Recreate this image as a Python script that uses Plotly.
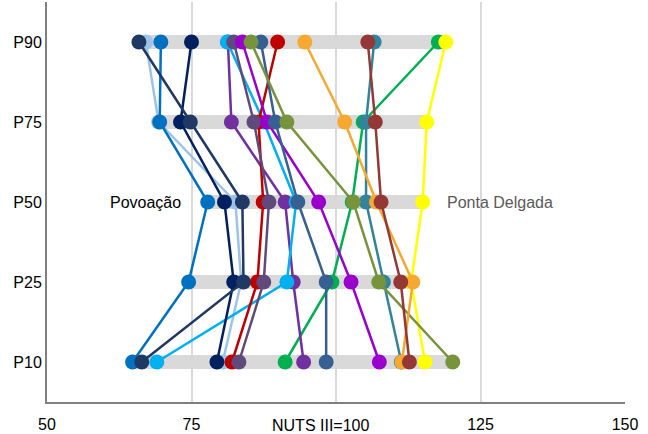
import plotly.graph_objects as go

levels = ["P10", "P25", "P50", "P75", "P90"]
level_pos = [0, 1, 2, 3, 4]

# values per series: [P10, P25, P50, P75, P90]
light_blue = [80.4, 83.6, 82.6, 69.3, 67.1]
green = [91.2, 99.3, 102.8, 104.7, 117.7]
teal = [111.3, 108.2, 105.2, 105.2, 106.6]
yellow = [115.4, 113.0, 115.0, 115.7, 119.0]
violet = [94.4, 92.6, 91.2, 81.9, 81.3]
cyan = [69.0, 91.5, 93.1, 87.5, 81.2]
red = [82.0, 86.4, 87.4, 86.6, 89.9]
dark_purple = [83.2, 87.5, 88.4, 85.8, 82.3]
navy = [79.4, 82.3, 80.7, 73.1, 75.0]
blue = [64.8, 74.5, 77.8, 69.5, 69.7]
dark_navy = [66.4, 84.0, 83.8, 74.8, 65.9]
purple = [107.5, 102.6, 97.0, 88.1, 83.8]
steel = [98.3, 98.3, 93.4, 89.5, 87.0]
olive = [120.2, 107.4, 103.0, 91.5, 85.3]
orange = [111.4, 113.3, 107.0, 101.5, 94.6]
brown = [112.7, 111.2, 107.8, 106.8, 105.5]

series = [
    (light_blue, "#9DC3E6"),
    (green, "#00B050"),
    (teal, "#31849B"),
    (yellow, "#FFFF00"),
    (violet, "#7030A0"),
    (cyan, "#00B0F0"),
    (red, "#C00000"),
    (dark_purple, "#604A7B"),
    (navy, "#002060"),
    (blue, "#0070C0"),
    (dark_navy, "#1F3864"),
    (purple, "#9900CC"),
    (steel, "#376092"),
    (olive, "#77933C"),
    (orange, "#F6A830"),
    (brown, "#953735"),
]

x_ticks = [50, 75, 100, 125, 150]
x_ticktext = ["50", "75", "", "125", "150"]

fig = go.Figure()

# grey range bands
for i, y in enumerate(level_pos):
    vals = [s[0][i] for s in series]
    fig.add_trace(go.Scatter(
        x=[min(vals), max(vals)], y=[y, y], mode="lines",
        line=dict(color="#D9D9D9", width=14), hoverinfo="skip", showlegend=False))

for vals, col in series:
    fig.add_trace(go.Scatter(
        x=vals, y=level_pos, mode="lines+markers",
        line=dict(color=col, width=2.5),
        marker=dict(color=col, size=15),
        showlegend=False))

fig.add_annotation(x=blue[2] - 4.3, y=2, text="Povoação", showarrow=False,
                   xanchor="right", font=dict(size=16, color="#000000"))
fig.add_annotation(x=yellow[2] + 3.8, y=2, text="Ponta Delgada", showarrow=False,
                   xanchor="left", font=dict(size=16, color="#595959"))
fig.add_annotation(x=97.3, y=0, xref="x", yref="paper", yshift=-23,
                   text="NUTS III=100", showarrow=False, yanchor="middle",
                   font=dict(size=16, color="#000000"))

fig.update_layout(
    width=648, height=434,
    margin=dict(l=47, r=23, t=2, b=32),
    plot_bgcolor="white", paper_bgcolor="white",
    font=dict(family="Liberation Sans, Arial, sans-serif", size=16, color="#000000"),
    xaxis=dict(range=[50, 150], tickvals=x_ticks, ticktext=x_ticktext,
               showgrid=True, gridcolor="#D9D9D9", gridwidth=2,
               showline=True, linecolor="#808080", linewidth=2,
               zeroline=False, ticks="", ticklabelstandoff=7),
    yaxis=dict(range=[-0.5, 4.5], tickvals=level_pos, ticktext=levels,
               showgrid=False, showline=True, linecolor="#808080", linewidth=2,
               zeroline=False, ticks=""),
)

fig.write_html("out.html", config={"displayModeBar": False},
               post_script="document.body.style.margin='0';document.body.style.overflow='hidden';")
